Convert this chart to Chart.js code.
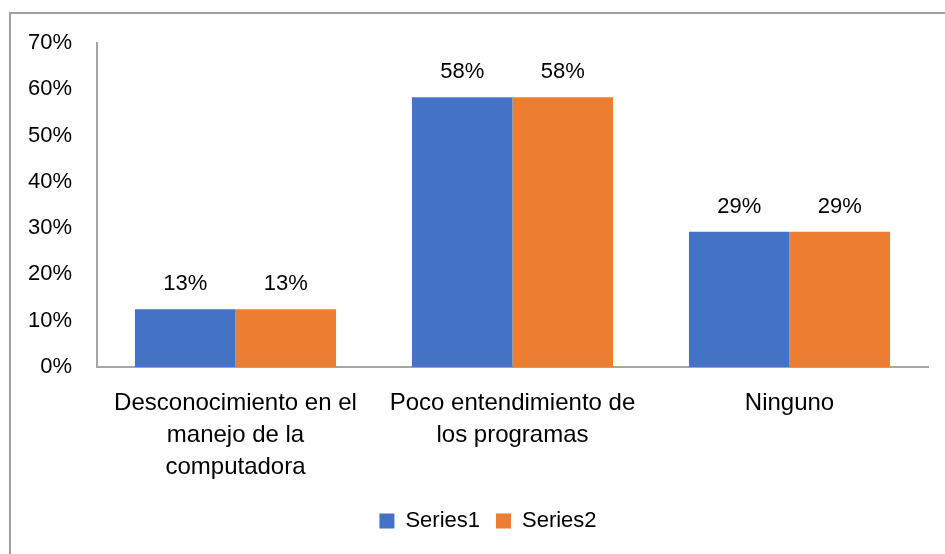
<!DOCTYPE html>
<html>
<head>
<meta charset="utf-8">
<script src="https://cdn.jsdelivr.net/npm/chart.js@4"></script>
<style>
html,body{margin:0;padding:0;background:#fff;}
#wrap{width:945px;height:554px;position:relative;}
</style>
</head>
<body>
<div id="wrap"><canvas id="c" width="945" height="554"></canvas></div>
<script>
const categories = [["Desconocimiento en el","manejo de la","computadora"],["Poco entendimiento de","los programas"],["Ninguno"]];
const series1 = [12.5, 58.3, 29.2];
const series2 = [12.5, 58.3, 29.2];
const seriesNames = ["Series1","Series2"];
const yTicks = [0,10,20,30,40,50,60,70];

const FONT = "'Liberation Sans', Arial, sans-serif";
const FS = 22;

const borderPlugin = {
  id:'border',
  beforeDraw(chart){
    const ctx = chart.ctx;
    ctx.save();
    ctx.fillStyle='#fff';
    ctx.fillRect(0,0,chart.width,chart.height);
    ctx.strokeStyle='#a0a0a0';
    ctx.lineWidth=2;
    ctx.strokeRect(10,13,chart.width+20,chart.height+20);
    ctx.restore();
  }
};
const shiftLegend = {
  id:'shiftLegend',
  afterLayout(chart){
    const lg = chart.legend;
    if(lg){ lg.left += 24; lg.right += 24; }
  }
};
const labelPlugin = {
  id:'vlabels',
  afterDatasetsDraw(chart){
    const ctx = chart.ctx;
    ctx.save();
    ctx.font = FS+"px "+FONT;
    ctx.fillStyle='#000';
    ctx.textAlign='center';
    ctx.textBaseline='middle';
    chart.data.datasets.forEach((ds,i)=>{
      chart.getDatasetMeta(i).data.forEach((bar,j)=>{
        ctx.fillText(Math.round(ds.data[j])+'%', bar.x, bar.y-25);
      });
    });
    ctx.restore();
  }
};

new Chart(document.getElementById('c'),{
  type:'bar',
  data:{
    labels:categories,
    datasets:[
      {label:seriesNames[0],data:series1,backgroundColor:'#4472C4',categoryPercentage:0.726,barPercentage:1},
      {label:seriesNames[1],data:series2,backgroundColor:'#ED7D31',categoryPercentage:0.726,barPercentage:1}
    ]
  },
  options:{
    responsive:false,
    animation:false,
    layout:{padding:{left:0,right:17,top:43,bottom:12}},
    plugins:{
      legend:{
        position:'bottom',
        labels:{font:{family:FONT,size:FS},color:'#000',boxWidth:15,boxHeight:15,padding:16}
      },
      tooltip:{enabled:false}
    },
    scales:{
      x:{
        grid:{display:false,drawTicks:false},
        border:{display:true,color:'#a6a6a6',width:2},
        ticks:{font:{family:FONT,size:24,lineHeight:1.34},color:'#000',padding:20,maxRotation:0,autoSkip:false},
        afterFit(scale){
          const lg = scale.chart.legend;
          const lh = lg ? lg.height : 0;
          scale.height = 554 - 12 - lh - 367;
        }
      },
      y:{
        min:0,max:70,
        afterBuildTicks(scale){ scale.ticks = yTicks.map(v=>({value:v})); },
        grid:{display:false,drawTicks:false},
        border:{display:true,color:'#a6a6a6',width:2},
        ticks:{font:{family:FONT,size:FS},color:'#000',padding:25,callback:v=>v+'%'},
        afterFit(scale){ scale.width = 97; }
      }
    }
  },
  plugins:[borderPlugin,shiftLegend,labelPlugin]
});
</script>
</body>
</html>
